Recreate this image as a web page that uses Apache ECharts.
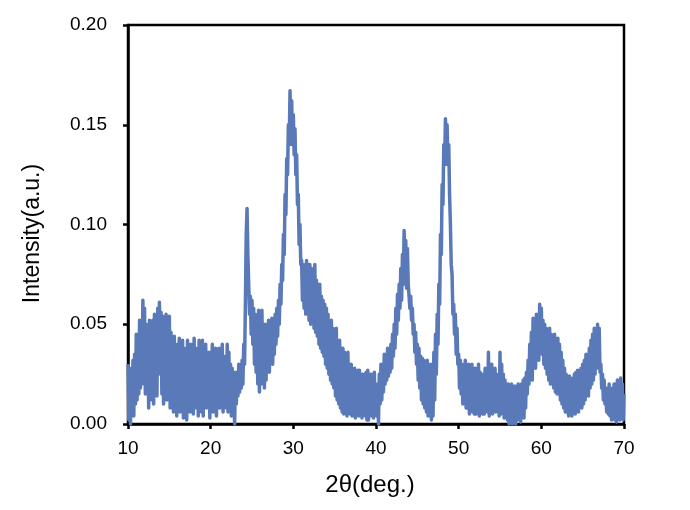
<!DOCTYPE html>
<html>
<head>
<meta charset="utf-8">
<script src="https://cdn.jsdelivr.net/npm/echarts@6/dist/echarts.min.js"></script>
<style>html,body{margin:0;padding:0;background:#fff;}#c{width:690px;height:510px;}</style>
</head>
<body>
<div id="c"></div>
<script>
const twoTheta = [
  10.0, 10.1, 10.2, 10.3, 10.4, 10.5, 10.6, 10.7, 10.8, 10.9,
  11.0, 11.1, 11.2, 11.3, 11.4, 11.5, 11.6, 11.7, 11.8, 11.9,
  12.0, 12.1, 12.2, 12.3, 12.4, 12.5, 12.6, 12.7, 12.8, 12.9,
  13.0, 13.1, 13.2, 13.3, 13.4, 13.5, 13.6, 13.7, 13.8, 13.9,
  14.0, 14.1, 14.2, 14.3, 14.4, 14.5, 14.6, 14.7, 14.8, 14.9,
  15.0, 15.1, 15.2, 15.3, 15.4, 15.5, 15.6, 15.7, 15.8, 15.9,
  16.0, 16.1, 16.2, 16.3, 16.4, 16.5, 16.6, 16.7, 16.8, 16.9,
  17.0, 17.1, 17.2, 17.3, 17.4, 17.5, 17.6, 17.7, 17.8, 17.9,
  18.0, 18.1, 18.2, 18.3, 18.4, 18.5, 18.6, 18.7, 18.8, 18.9,
  19.0, 19.1, 19.2, 19.3, 19.4, 19.5, 19.6, 19.7, 19.8, 19.9,
  20.0, 20.1, 20.2, 20.3, 20.4, 20.5, 20.6, 20.7, 20.8, 20.9,
  21.0, 21.1, 21.2, 21.3, 21.4, 21.5, 21.6, 21.7, 21.8, 21.9,
  22.0, 22.1, 22.2, 22.3, 22.4, 22.5, 22.6, 22.7, 22.8, 22.9,
  23.0, 23.1, 23.2, 23.3, 23.4, 23.5, 23.6, 23.7, 23.8, 23.9,
  24.0, 24.1, 24.2, 24.3, 24.4, 24.5, 24.6, 24.7, 24.8, 24.9,
  25.0, 25.1, 25.2, 25.3, 25.4, 25.5, 25.6, 25.7, 25.8, 25.9,
  26.0, 26.1, 26.2, 26.3, 26.4, 26.5, 26.6, 26.7, 26.8, 26.9,
  27.0, 27.1, 27.2, 27.3, 27.4, 27.5, 27.6, 27.7, 27.8, 27.9,
  28.0, 28.1, 28.2, 28.3, 28.4, 28.5, 28.6, 28.7, 28.8, 28.9,
  29.0, 29.1, 29.2, 29.3, 29.4, 29.5, 29.6, 29.7, 29.8, 29.9,
  30.0, 30.1, 30.2, 30.3, 30.4, 30.5, 30.6, 30.7, 30.8, 30.9,
  31.0, 31.1, 31.2, 31.3, 31.4, 31.5, 31.6, 31.7, 31.8, 31.9,
  32.0, 32.1, 32.2, 32.3, 32.4, 32.5, 32.6, 32.7, 32.8, 32.9,
  33.0, 33.1, 33.2, 33.3, 33.4, 33.5, 33.6, 33.7, 33.8, 33.9,
  34.0, 34.1, 34.2, 34.3, 34.4, 34.5, 34.6, 34.7, 34.8, 34.9,
  35.0, 35.1, 35.2, 35.3, 35.4, 35.5, 35.6, 35.7, 35.8, 35.9,
  36.0, 36.1, 36.2, 36.3, 36.4, 36.5, 36.6, 36.7, 36.8, 36.9,
  37.0, 37.1, 37.2, 37.3, 37.4, 37.5, 37.6, 37.7, 37.8, 37.9,
  38.0, 38.1, 38.2, 38.3, 38.4, 38.5, 38.6, 38.7, 38.8, 38.9,
  39.0, 39.1, 39.2, 39.3, 39.4, 39.5, 39.6, 39.7, 39.8, 39.9,
  40.0, 40.1, 40.2, 40.3, 40.4, 40.5, 40.6, 40.7, 40.8, 40.9,
  41.0, 41.1, 41.2, 41.3, 41.4, 41.5, 41.6, 41.7, 41.8, 41.9,
  42.0, 42.1, 42.2, 42.3, 42.4, 42.5, 42.6, 42.7, 42.8, 42.9,
  43.0, 43.1, 43.2, 43.3, 43.4, 43.5, 43.6, 43.7, 43.8, 43.9,
  44.0, 44.1, 44.2, 44.3, 44.4, 44.5, 44.6, 44.7, 44.8, 44.9,
  45.0, 45.1, 45.2, 45.3, 45.4, 45.5, 45.6, 45.7, 45.8, 45.9,
  46.0, 46.1, 46.2, 46.3, 46.4, 46.5, 46.6, 46.7, 46.8, 46.9,
  47.0, 47.1, 47.2, 47.3, 47.4, 47.5, 47.6, 47.7, 47.8, 47.9,
  48.0, 48.1, 48.2, 48.3, 48.4, 48.5, 48.6, 48.7, 48.8, 48.9,
  49.0, 49.1, 49.2, 49.3, 49.4, 49.5, 49.6, 49.7, 49.8, 49.9,
  50.0, 50.1, 50.2, 50.3, 50.4, 50.5, 50.6, 50.7, 50.8, 50.9,
  51.0, 51.1, 51.2, 51.3, 51.4, 51.5, 51.6, 51.7, 51.8, 51.9,
  52.0, 52.1, 52.2, 52.3, 52.4, 52.5, 52.6, 52.7, 52.8, 52.9,
  53.0, 53.1, 53.2, 53.3, 53.4, 53.5, 53.6, 53.7, 53.8, 53.9,
  54.0, 54.1, 54.2, 54.3, 54.4, 54.5, 54.6, 54.7, 54.8, 54.9,
  55.0, 55.1, 55.2, 55.3, 55.4, 55.5, 55.6, 55.7, 55.8, 55.9,
  56.0, 56.1, 56.2, 56.3, 56.4, 56.5, 56.6, 56.7, 56.8, 56.9,
  57.0, 57.1, 57.2, 57.3, 57.4, 57.5, 57.6, 57.7, 57.8, 57.9,
  58.0, 58.1, 58.2, 58.3, 58.4, 58.5, 58.6, 58.7, 58.8, 58.9,
  59.0, 59.1, 59.2, 59.3, 59.4, 59.5, 59.6, 59.7, 59.8, 59.9,
  60.0, 60.1, 60.2, 60.3, 60.4, 60.5, 60.6, 60.7, 60.8, 60.9,
  61.0, 61.1, 61.2, 61.3, 61.4, 61.5, 61.6, 61.7, 61.8, 61.9,
  62.0, 62.1, 62.2, 62.3, 62.4, 62.5, 62.6, 62.7, 62.8, 62.9,
  63.0, 63.1, 63.2, 63.3, 63.4, 63.5, 63.6, 63.7, 63.8, 63.9,
  64.0, 64.1, 64.2, 64.3, 64.4, 64.5, 64.6, 64.7, 64.8, 64.9,
  65.0, 65.1, 65.2, 65.3, 65.4, 65.5, 65.6, 65.7, 65.8, 65.9,
  66.0, 66.1, 66.2, 66.3, 66.4, 66.5, 66.6, 66.7, 66.8, 66.9,
  67.0, 67.1, 67.2, 67.3, 67.4, 67.5, 67.6, 67.7, 67.8, 67.9,
  68.0, 68.1, 68.2, 68.3, 68.4, 68.5, 68.6, 68.7, 68.8, 68.9,
  69.0, 69.1, 69.2, 69.3, 69.4, 69.5, 69.6, 69.7, 69.8, 69.9,
  70.0
];
const intensity = [
  0.030, 0.002, 0.028, 0.000, 0.020, 0.006, 0.032, 0.004, 0.035, 0.010,
  0.045, 0.012, 0.040, 0.015, 0.052, 0.018, 0.048, 0.020, 0.062, 0.025,
  0.058, 0.015, 0.050, 0.020, 0.046, 0.008, 0.052, 0.012, 0.048, 0.018,
  0.052, 0.010, 0.055, 0.020, 0.050, 0.014, 0.058, 0.025, 0.061, 0.030,
  0.056, 0.015, 0.054, 0.010, 0.050, 0.020, 0.055, 0.012, 0.048, 0.018,
  0.054, 0.008, 0.046, 0.012, 0.040, 0.006, 0.044, 0.010, 0.038, 0.004,
  0.040, 0.010, 0.043, 0.006, 0.035, 0.012, 0.042, 0.003, 0.038, 0.008,
  0.036, 0.002, 0.042, 0.010, 0.030, 0.006, 0.040, 0.012, 0.034, 0.005,
  0.043, 0.008, 0.038, 0.014, 0.030, 0.004, 0.042, 0.010, 0.036, 0.006,
  0.042, 0.004, 0.038, 0.012, 0.040, 0.008, 0.030, 0.010, 0.036, 0.003,
  0.035, 0.010, 0.040, 0.006, 0.032, 0.012, 0.038, 0.004, 0.030, 0.010,
  0.038, 0.008, 0.036, 0.014, 0.040, 0.006, 0.034, 0.012, 0.030, 0.008,
  0.040, 0.006, 0.036, 0.012, 0.030, 0.004, 0.028, 0.010, 0.015, 0.000,
  0.026, 0.010, 0.025, 0.014, 0.030, 0.016, 0.028, 0.018, 0.032, 0.020,
  0.040, 0.030, 0.060, 0.095, 0.108, 0.085, 0.070, 0.055, 0.064, 0.045,
  0.062, 0.040, 0.058, 0.030, 0.055, 0.026, 0.050, 0.020, 0.057, 0.016,
  0.052, 0.020, 0.057, 0.025, 0.048, 0.018, 0.050, 0.022, 0.045, 0.028,
  0.052, 0.026, 0.050, 0.032, 0.053, 0.030, 0.048, 0.035, 0.055, 0.040,
  0.058, 0.044, 0.062, 0.050, 0.070, 0.060, 0.080, 0.072, 0.095, 0.085,
  0.115, 0.105, 0.133, 0.125, 0.150, 0.140, 0.167, 0.145, 0.162, 0.140,
  0.155, 0.135, 0.148, 0.125, 0.135, 0.110, 0.115, 0.090, 0.100, 0.080,
  0.082, 0.062, 0.080, 0.058, 0.078, 0.055, 0.082, 0.060, 0.080, 0.052,
  0.080, 0.050, 0.078, 0.055, 0.076, 0.048, 0.080, 0.046, 0.072, 0.044,
  0.068, 0.040, 0.070, 0.038, 0.064, 0.036, 0.062, 0.034, 0.060, 0.030,
  0.058, 0.028, 0.055, 0.025, 0.050, 0.022, 0.052, 0.020, 0.048, 0.018,
  0.045, 0.014, 0.048, 0.012, 0.040, 0.010, 0.042, 0.008, 0.038, 0.006,
  0.038, 0.005, 0.036, 0.008, 0.034, 0.004, 0.036, 0.006, 0.030, 0.005,
  0.030, 0.004, 0.026, 0.008, 0.028, 0.003, 0.024, 0.006, 0.027, 0.004,
  0.027, 0.006, 0.024, 0.003, 0.025, 0.008, 0.022, 0.004, 0.026, 0.002,
  0.027, 0.002, 0.024, 0.006, 0.025, 0.004, 0.022, 0.003, 0.026, 0.006,
  0.020, 0.004, 0.018, 0.000, 0.025, 0.010, 0.030, 0.012, 0.028, 0.016,
  0.035, 0.020, 0.032, 0.022, 0.038, 0.024, 0.036, 0.026, 0.040, 0.028,
  0.045, 0.034, 0.050, 0.038, 0.058, 0.045, 0.065, 0.052, 0.070, 0.058,
  0.078, 0.062, 0.085, 0.070, 0.097, 0.075, 0.092, 0.068, 0.088, 0.070,
  0.070, 0.058, 0.064, 0.052, 0.058, 0.045, 0.050, 0.036, 0.046, 0.030,
  0.040, 0.022, 0.038, 0.018, 0.034, 0.012, 0.033, 0.010, 0.032, 0.008,
  0.030, 0.006, 0.032, 0.004, 0.028, 0.008, 0.030, 0.002, 0.024, 0.004,
  0.036, 0.012, 0.045, 0.025, 0.055, 0.040, 0.070, 0.060, 0.095, 0.085,
  0.120, 0.110, 0.140, 0.130, 0.153, 0.135, 0.150, 0.130, 0.140, 0.115,
  0.100, 0.080, 0.075, 0.055, 0.060, 0.045, 0.055, 0.035, 0.048, 0.030,
  0.035, 0.018, 0.032, 0.015, 0.030, 0.010, 0.028, 0.012, 0.032, 0.008,
  0.028, 0.008, 0.030, 0.005, 0.026, 0.010, 0.030, 0.006, 0.028, 0.005,
  0.028, 0.005, 0.025, 0.008, 0.030, 0.004, 0.026, 0.006, 0.024, 0.005,
  0.025, 0.005, 0.028, 0.008, 0.022, 0.006, 0.036, 0.004, 0.030, 0.008,
  0.030, 0.005, 0.026, 0.010, 0.028, 0.006, 0.025, 0.008, 0.022, 0.004,
  0.036, 0.005, 0.030, 0.008, 0.025, 0.003, 0.022, 0.006, 0.020, 0.002,
  0.020, 0.000, 0.018, 0.004, 0.020, 0.000, 0.016, 0.003, 0.019, 0.000,
  0.018, 0.002, 0.020, 0.004, 0.017, 0.001, 0.020, 0.005, 0.022, 0.003,
  0.023, 0.008, 0.026, 0.015, 0.032, 0.020, 0.040, 0.025, 0.046, 0.022,
  0.053, 0.030, 0.050, 0.028, 0.055, 0.034, 0.052, 0.032, 0.060, 0.036,
  0.058, 0.035, 0.052, 0.030, 0.050, 0.028, 0.048, 0.025, 0.046, 0.022,
  0.048, 0.020, 0.045, 0.022, 0.043, 0.018, 0.045, 0.016, 0.042, 0.015,
  0.043, 0.015, 0.040, 0.012, 0.036, 0.010, 0.032, 0.008, 0.028, 0.006,
  0.025, 0.006, 0.022, 0.004, 0.024, 0.005, 0.021, 0.004, 0.023, 0.006,
  0.025, 0.005, 0.026, 0.008, 0.027, 0.006, 0.025, 0.009, 0.028, 0.008,
  0.030, 0.010, 0.032, 0.012, 0.035, 0.015, 0.033, 0.014, 0.038, 0.018,
  0.042, 0.020, 0.045, 0.022, 0.048, 0.025, 0.046, 0.028, 0.050, 0.030,
  0.048, 0.026, 0.030, 0.018, 0.025, 0.012, 0.022, 0.010, 0.018, 0.006,
  0.017, 0.005, 0.020, 0.004, 0.016, 0.002, 0.018, 0.003, 0.020, 0.002,
  0.020, 0.001, 0.022, 0.003, 0.018, 0.002, 0.023, 0.004, 0.020, 0.002,
  0.015
];
const xTicks = [10, 20, 30, 40, 50, 60, 70];
const yTicks = [0, 0.05, 0.10, 0.15, 0.20];

const chart = echarts.init(document.getElementById('c'), null, {renderer: 'canvas'});
const font = 'Liberation Sans, Arial, Helvetica, sans-serif';
chart.setOption({
  animation: false,
  backgroundColor: '#fff',
  grid: {left: 128, right: 66, top: 25, bottom: 86, show: true, borderColor: '#000', borderWidth: 2.5, backgroundColor: 'transparent'},
  xAxis: {
    type: 'value', min: xTicks[0], max: xTicks[xTicks.length - 1], interval: 10,
    name: '2θ(deg.)', nameLocation: 'middle', nameGap: 49,
    nameTextStyle: {fontFamily: font, fontSize: 24, color: '#000', padding: [0, 12, 0, 0]},
    axisLine: {show: true, lineStyle: {color: '#000', width: 2.5}},
    axisTick: {show: true, inside: false, length: 5, lineStyle: {color: '#000', width: 2.5}},
    axisLabel: {fontFamily: font, fontSize: 19, color: '#000', margin: 15, formatter: v => String(v)},
    splitLine: {show: false}
  },
  yAxis: {
    type: 'value', min: yTicks[0], max: yTicks[yTicks.length - 1], interval: 0.05,
    name: 'Intensity(a.u.)', nameLocation: 'middle', nameGap: 84,
    nameTextStyle: {fontFamily: font, fontSize: 23, color: '#000', padding: [0, 18, 0, 0]},
    axisLine: {show: true, lineStyle: {color: '#000', width: 2.5}},
    axisTick: {show: true, inside: false, length: 5, lineStyle: {color: '#000', width: 2.5}},
    axisLabel: {fontFamily: font, fontSize: 19, color: '#000', margin: 21, formatter: v => v.toFixed(2)},
    splitLine: {show: false}
  },
  series: [{
    type: 'line',
    data: twoTheta.map((x, i) => [x, intensity[i]]),
    showSymbol: false,
    symbol: 'none',
    lineStyle: {color: '#5a79b8', width: 3.5, join: 'round'},
    clip: true
  }]
});
</script>
</body>
</html>
